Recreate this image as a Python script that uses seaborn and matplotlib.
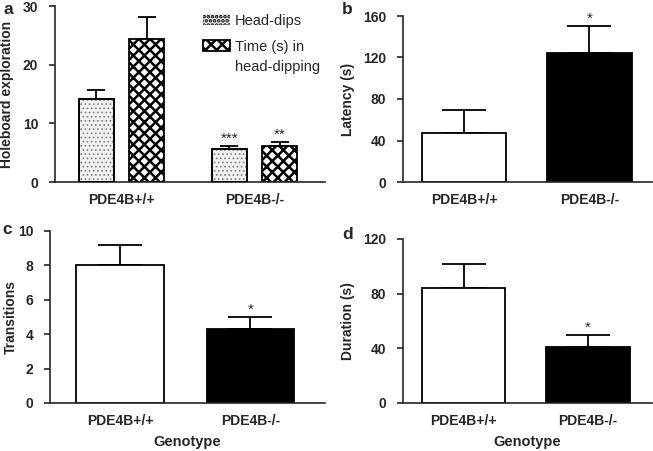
"""
PDE4B holeboard / light-dark figure, four bar panels
"""
import matplotlib
matplotlib.use("Agg")
import matplotlib.pyplot as plt
from matplotlib.patches import Patch, Rectangle
import seaborn as sns
import pandas as pd

genotypes = ["PDE4B+/+", "PDE4B-/-"]

# panel a: holeboard
measures = ["Head-dips", "Time (s) in"]
head_dips = [14.1, 5.7]
head_dips_err = [1.6, 0.5]
dip_time = [24.4, 6.1]
dip_time_err = [3.8, 0.7]
stars_a = ["", "", "***", "**"]  # dips WT, time WT, dips KO, time KO

# panels b-d
latency = [47.1, 124.8]
latency_err = [22.5, 25.3]
transitions = [8.0, 4.3]
transitions_err = [1.2, 0.7]
duration = [84.5, 40.9]
duration_err = [17.5, 9.2]

sns.set_style("ticks")
plt.rcParams["font.family"] = ["Liberation Sans", "DejaVu Sans"]
plt.rcParams["hatch.linewidth"] = 1.8
plt.rcParams["axes.linewidth"] = 1.2

fig = plt.figure(figsize=(6.53, 4.51), dpi=100)
W, H = 653, 451


def px_axes(l, t, r, b):
    return fig.add_axes([l / W, 1 - b / H, (r - l) / W, (b - t) / H])


def style_axis(ax, yticks, xlim, label, label_x, xlabel=None):
    ax.set_ylim(yticks[0], yticks[-1])
    ax.set_yticks(yticks)
    ax.set_xlim(*xlim)
    sns.despine(ax=ax)
    ax.tick_params(axis="y", length=4, width=1.2, pad=8)
    ax.tick_params(axis="x", length=0, pad=8)
    for t in ax.get_xticklabels() + ax.get_yticklabels():
        t.set_fontweight("bold")
        t.set_fontsize(10)
    ax.set_ylabel(label, fontsize=10, fontweight="bold")
    ax.yaxis.set_label_coords(label_x, 0.5)
    if xlabel:
        ax.set_xlabel(xlabel, fontsize=10.5, fontweight="bold", labelpad=5)
    else:
        ax.set_xlabel("")


def add_errors(ax, bars, errs, stars, capsize):
    for p, e, s in zip(bars, errs, stars):
        x = p.get_x() + p.get_width() / 2
        h = p.get_height()
        ax.errorbar([x], [h], yerr=[[0], [e]], fmt="none", ecolor="black",
                    elinewidth=1.3, capsize=capsize, capthick=1.3, zorder=1)
        if s:
            ax.text(x, h + e, s, ha="center", va="bottom", fontsize=11)


def stipple(ax, p):
    # light grey dots laid over the bar, outline kept on top
    dots = Rectangle((p.get_x(), p.get_y()), p.get_width(), p.get_height(),
                     fill=False, edgecolor="#8a8a8a", linewidth=0, hatch="....",
                     zorder=2.5)
    if hasattr(dots, "set_hatch_linewidth"):
        dots.set_hatch_linewidth(0.8)
    ax.add_patch(dots)
    ax.add_patch(Rectangle((p.get_x(), p.get_y()), p.get_width(), p.get_height(),
                           fill=False, edgecolor="black", linewidth=1.3, zorder=3))


# ---- a ----
ax_a = px_axes(55, 6, 325, 182)
df_a = pd.DataFrame({
    "genotype": genotypes * 2,
    "measure": [measures[0]] * 2 + [measures[1]] * 2,
    "value": head_dips + dip_time,
})
sns.barplot(data=df_a, x="genotype", y="value", hue="measure", ax=ax_a,
            palette=["#f2f2f2", "white"], edgecolor="black", linewidth=1.3,
            width=0.76, gap=0.31, legend=False)
bars_a = sorted([p for p in ax_a.patches if p.get_height() > 0], key=lambda p: p.get_x())
for p in bars_a:
    p.set_zorder(2)
for i, p in enumerate(bars_a):
    if i % 2 == 0:
        stipple(ax_a, p)
    else:
        p.set_hatch("xxx")
vals_a = [head_dips_err[0], dip_time_err[0], head_dips_err[1], dip_time_err[1]]
add_errors(ax_a, bars_a, vals_a, stars_a, 6.5)
style_axis(ax_a, [0, 10, 20, 30], (-0.5, 1.53), "Holeboard exploration", -0.15)

h_dots = Patch(facecolor="#f2f2f2", edgecolor="#8a8a8a", hatch="....", linewidth=0)
if hasattr(h_dots, "set_hatch_linewidth"):
    h_dots.set_hatch_linewidth(0.8)
handles = [h_dots,
           Patch(facecolor="white", edgecolor="black", hatch="xxx", linewidth=1.3)]
leg = ax_a.legend(handles, measures, loc="upper left", bbox_to_anchor=(0.548, 0.955),
                  frameon=False, fontsize=10.5, handlelength=1.85, handleheight=0.75,
                  handletextpad=0.35, labelspacing=0.8, borderpad=0, borderaxespad=0)
leg.legend_handles[0].set_edgecolor("black")
ax_a.text(0.667, 0.655, "head-dipping", transform=ax_a.transAxes,
          fontsize=10.5, ha="left", va="center")

# ---- b, c, d ----
panels = [
    ((403, 16, 652, 182), latency, latency_err, [0, 40, 80, 120, 160],
     (-0.486, 1.498), "Latency (s)", -0.193, None),
    ((50, 231, 325, 403), transitions, transitions_err, [0, 2, 4, 6, 8, 10],
     (-0.536, 1.571), "Transitions", -0.118, "Genotype"),
    ((403, 239, 652, 403), duration, duration_err, [0, 40, 80, 120],
     (-0.486, 1.514), "Duration (s)", -0.193, "Genotype"),
]
for box, vals, errs, yt, xl, lab, lx, xlab in panels:
    ax = px_axes(*box)
    sns.barplot(x=genotypes, y=vals, hue=genotypes, palette=["white", "black"],
                edgecolor="black", linewidth=1.3, width=0.67, legend=False, ax=ax)
    bars = sorted([p for p in ax.patches if p.get_height() > 0], key=lambda p: p.get_x())
    for p in bars:
        p.set_zorder(2)
    add_errors(ax, bars, errs, ["", "*"], 15.5)
    style_axis(ax, yt, xl, lab, lx, xlab)

# panel letters
for letter, x, y in [("a", 3, 14), ("b", 342, 14), ("c", 2, 234), ("d", 342, 239)]:
    fig.text(x / W, 1 - y / H, letter, fontsize=12.5, fontweight="bold",
             ha="left", va="baseline")

fig.savefig("out.png", dpi=100)
